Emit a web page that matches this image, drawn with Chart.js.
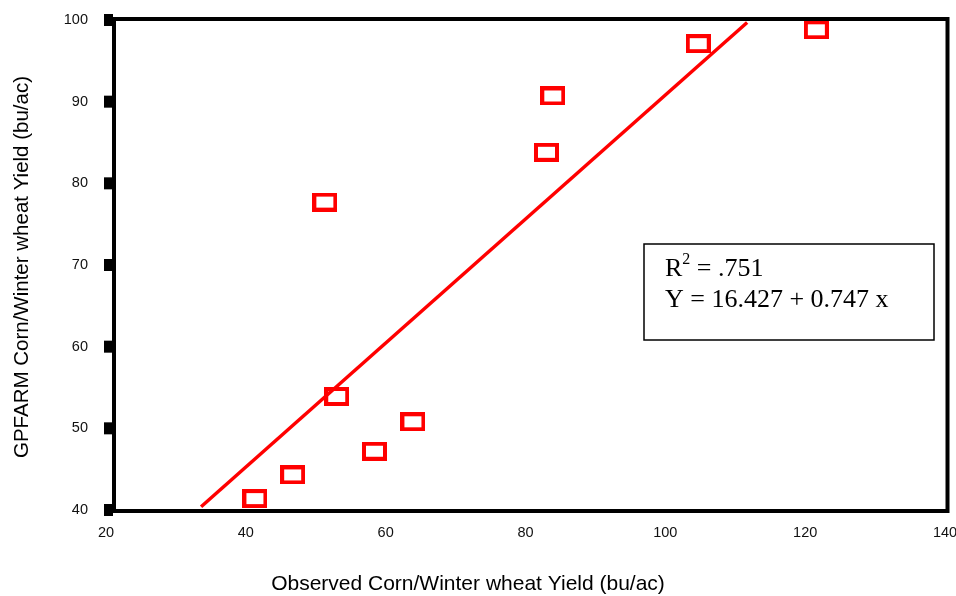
<!DOCTYPE html>
<html>
<head>
<meta charset="utf-8">
<script src="https://cdn.jsdelivr.net/npm/chart.js@4/dist/chart.umd.min.js"></script>
<style>
  html, body { margin: 0; padding: 0; background: #fff; }
  #wrap { width: 956px; height: 596px; position: relative; }
</style>
</head>
<body>
<div id="wrap"><canvas id="c" width="956" height="596"></canvas></div>
<script>
// ---- data ----
const xTickValues = [20, 40, 60, 80, 100, 120, 140];
const yTickValues = [40, 50, 60, 70, 80, 90, 100];
const observed  = [41.3, 46.7, 53.0, 58.4, 63.9, 51.3, 83.0, 83.9, 104.7, 121.6];
const simulated = [41.4, 44.3, 53.9, 47.2, 50.8, 77.7, 83.8, 90.7, 97.1, 98.8];
const fitX = [33.6, 111.7];
const fitY = [40.4, 99.7];
const xTitle = 'Observed Corn/Winter wheat Yield (bu/ac)';
const yTitle = 'GPFARM Corn/Winter wheat Yield (bu/ac)';
const statLine1 = 'R';
const statSup = '2';
const statLine1b = ' = .751';
const statLine2 = 'Y = 16.427 + 0.747 x';

// hollow red rectangle marker
function makeMarker() {
  const c = document.createElement('canvas');
  c.width = 25; c.height = 19;
  const g = c.getContext('2d');
  g.strokeStyle = '#ff0000';
  g.lineWidth = 4;
  g.strokeRect(2, 2, 21, 15);
  return c;
}
const marker = makeMarker();

const points = observed.map((x, i) => ({ x: x, y: simulated[i] }));
const fitLine = fitX.map((x, i) => ({ x: x, y: fitY[i] }));

const decor = {
  id: 'decor',
  afterDatasetsDraw(chart) {
    const ctx = chart.ctx;
    const a = chart.chartArea;
    const ys = chart.scales.y;
    ctx.save();
    // frame
    ctx.strokeStyle = '#000';
    ctx.lineWidth = 4;
    ctx.strokeRect(a.left + 8, a.top - 1, (a.right + 2.5) - (a.left + 8), (a.bottom + 1) - (a.top - 1));
    // tick squares on y axis
    ctx.fillStyle = '#000';
    yTickValues.forEach(v => {
      const py = ys.getPixelForValue(v);
      ctx.fillRect(a.left - 2, py - 6, 9, 12);
    });
    ctx.restore();
  },
  afterDraw(chart) {
    const ctx = chart.ctx;
    ctx.save();
    // axis titles
    ctx.fillStyle = '#000';
    ctx.font = '21px "Liberation Sans", Arial, sans-serif';
    ctx.textAlign = 'center';
    ctx.textBaseline = 'middle';
    ctx.fillText(xTitle, 468, 584);
    ctx.save();
    ctx.translate(22, 267);
    ctx.rotate(-Math.PI / 2);
    ctx.font = '20.5px "Liberation Sans", Arial, sans-serif';
    ctx.fillText(yTitle, 0, 0);
    ctx.restore();
    // stats box
    ctx.fillStyle = '#fff';
    ctx.fillRect(644, 244, 290, 96);
    ctx.strokeStyle = '#000';
    ctx.lineWidth = 1.5;
    ctx.strokeRect(644, 244, 290, 96);
    ctx.fillStyle = '#000';
    ctx.textAlign = 'left';
    ctx.textBaseline = 'alphabetic';
    ctx.font = '26px "Liberation Serif", "Times New Roman", serif';
    const x0 = 665;
    ctx.fillText(statLine1, x0, 276);
    const w = ctx.measureText(statLine1).width;
    ctx.font = '16px "Liberation Serif", "Times New Roman", serif';
    ctx.fillText(statSup, x0 + w, 264);
    const w2 = ctx.measureText(statSup).width;
    ctx.font = '26px "Liberation Serif", "Times New Roman", serif';
    ctx.fillText(statLine1b, x0 + w + w2, 276);
    ctx.fillText(statLine2, x0, 307);
    ctx.restore();
  }
};

new Chart(document.getElementById('c'), {
  data: {
    datasets: [
      {
        type: 'scatter',
        data: points,
        pointStyle: marker,
        pointRadius: 10,
        pointHoverRadius: 10,
        order: 1
      },
      {
        type: 'line',
        data: fitLine,
        borderColor: '#ff0000',
        borderWidth: 3.5,
        pointRadius: 0,
        fill: false,
        order: 2
      }
    ]
  },
  options: {
    responsive: false,
    animation: false,
    devicePixelRatio: 1,
    layout: { padding: { top: 20, right: 10, left: 0, bottom: 0 } },
    plugins: { legend: { display: false }, tooltip: { enabled: false }, title: { display: false } },
    scales: {
      x: {
        type: 'linear',
        min: 20, max: 140,
        afterFit(s) { s.height = 86; s.paddingLeft = 0; s.paddingRight = 0; },
        afterBuildTicks(s) { s.ticks = xTickValues.map(v => ({ value: v })); },
        grid: { display: false, drawTicks: false },
        border: { display: false },
        ticks: {
          padding: 14,
          color: '#111',
          font: { family: '"Liberation Sans", Arial, sans-serif', size: 14.5 },
          maxRotation: 0
        }
      },
      y: {
        type: 'linear',
        min: 40, max: 100,
        afterFit(s) { s.width = 106; s.paddingTop = 0; s.paddingBottom = 0; },
        afterBuildTicks(s) { s.ticks = yTickValues.map(v => ({ value: v })); },
        grid: { display: false, drawTicks: false },
        border: { display: false },
        ticks: {
          padding: 18,
          color: '#111',
          font: { family: '"Liberation Sans", Arial, sans-serif', size: 14.5 }
        }
      }
    }
  },
  plugins: [decor]
});
</script>
</body>
</html>
